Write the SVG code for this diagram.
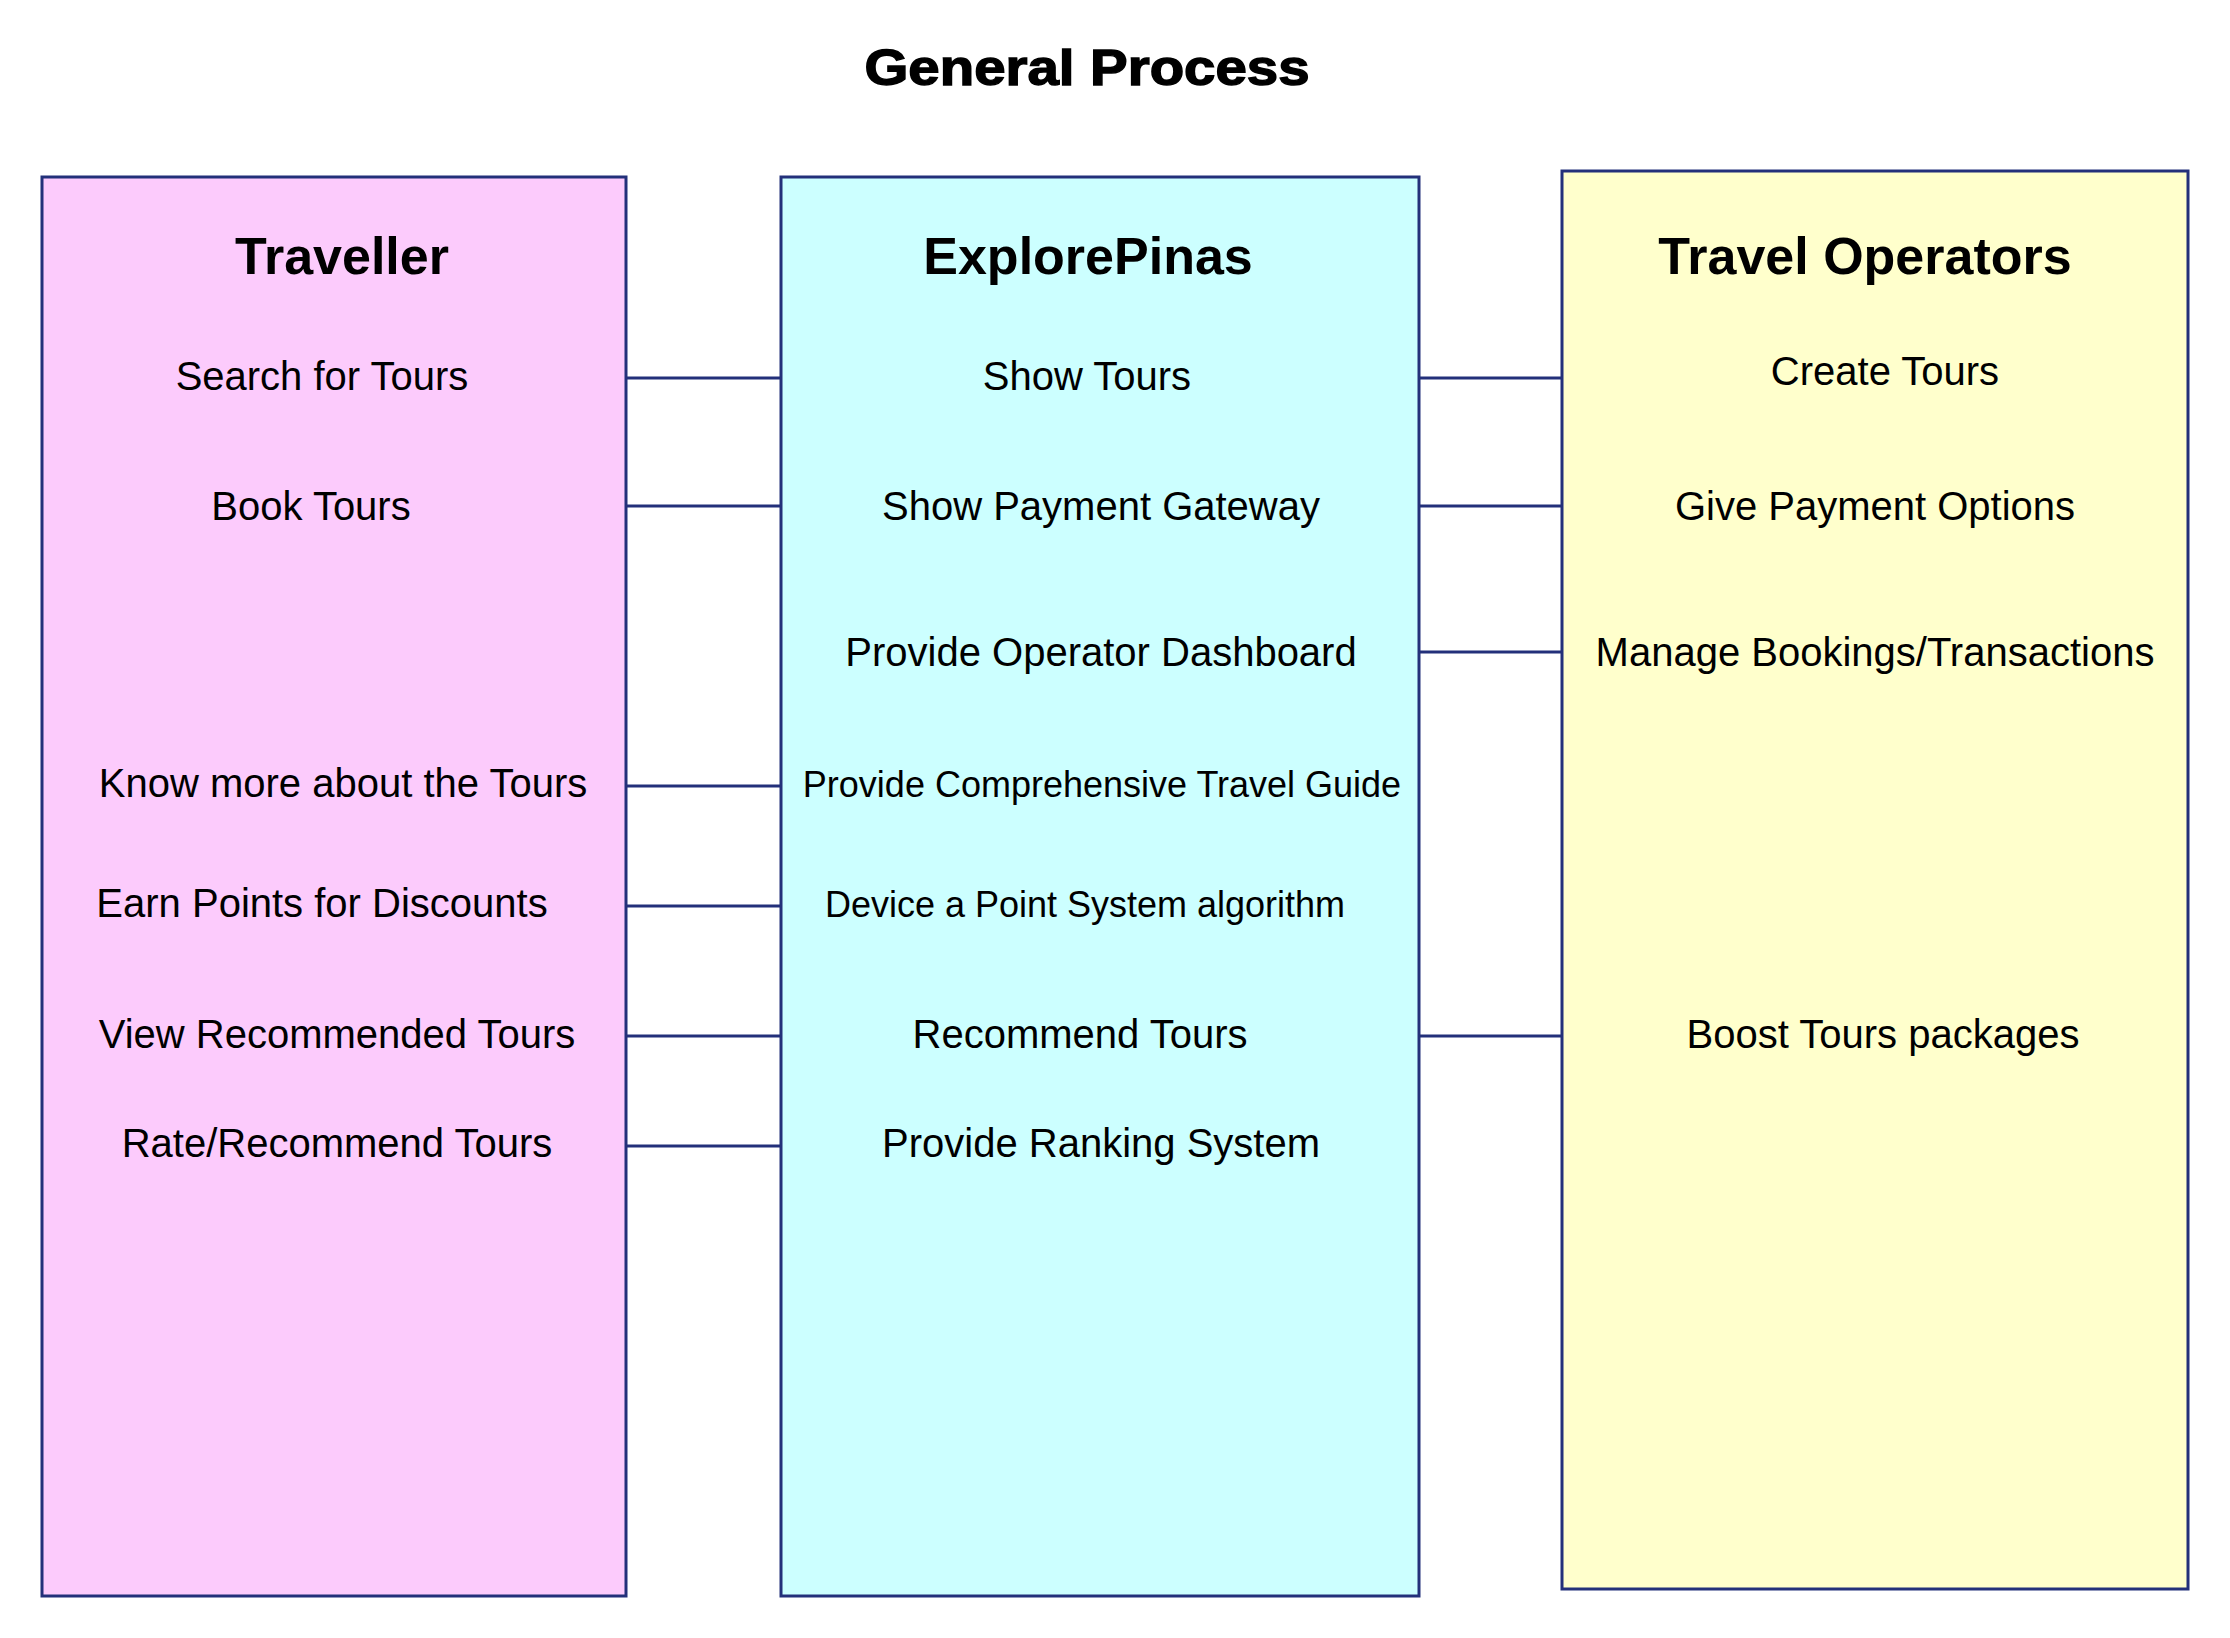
<svg xmlns="http://www.w3.org/2000/svg" width="2230" height="1638" viewBox="0 0 2230 1638">
<style>
.box{stroke:#23307a;stroke-width:3}
.conn line{stroke:#23307a;stroke-width:3}
text{font-family:"Liberation Sans",Arial,sans-serif;fill:#000;text-anchor:middle}
.title{font-size:50px;font-weight:bold;stroke:#000;stroke-width:1.4}
.head{font-size:52px;font-weight:bold}
.item{font-size:40px}
.small{font-size:36px}
</style>
<rect width="2230" height="1638" fill="#fff"/>
<text class="title" x="1087" y="85" textLength="445" lengthAdjust="spacingAndGlyphs">General Process</text>
<g id="traveller">
<rect class="box" x="42" y="177" width="584" height="1419" fill="#fccbfc"/>
<text class="head" x="342" y="274">Traveller</text>
<text class="item" x="322" y="390">Search for Tours</text>
<text class="item" x="311" y="520">Book Tours</text>
<text class="item" x="343" y="797">Know more about the Tours</text>
<text class="item" x="322" y="917">Earn Points for Discounts</text>
<text class="item" x="337" y="1048">View Recommended Tours</text>
<text class="item" x="337" y="1157">Rate/Recommend Tours</text>
</g>
<g id="explorepinas">
<rect class="box" x="781" y="177" width="638" height="1419" fill="#ccffff"/>
<text class="head" x="1088" y="274">ExplorePinas</text>
<text class="item" x="1087" y="390">Show Tours</text>
<text class="item" x="1101" y="520">Show Payment Gateway</text>
<text class="item" x="1101" y="666">Provide Operator Dashboard</text>
<text class="small" x="1102" y="797">Provide Comprehensive Travel Guide</text>
<text class="small" x="1085" y="917">Device a Point System algorithm</text>
<text class="item" x="1080" y="1048">Recommend Tours</text>
<text class="item" x="1101" y="1157">Provide Ranking System</text>
</g>
<g id="operators">
<rect class="box" x="1562" y="171" width="626" height="1418" fill="#ffffcc"/>
<text class="head" x="1865" y="274">Travel Operators</text>
<text class="item" x="1885" y="385">Create Tours</text>
<text class="item" x="1875" y="520">Give Payment Options</text>
<text class="item" x="1875" y="666">Manage Bookings/Transactions</text>
<text class="item" x="1883" y="1048">Boost Tours packages</text>
</g>
<g id="connectors" class="conn">
<line x1="626" y1="378" x2="781" y2="378"/>
<line x1="626" y1="506" x2="781" y2="506"/>
<line x1="626" y1="786" x2="781" y2="786"/>
<line x1="626" y1="906" x2="781" y2="906"/>
<line x1="626" y1="1036" x2="781" y2="1036"/>
<line x1="626" y1="1146" x2="781" y2="1146"/>
<line x1="1419" y1="378" x2="1562" y2="378"/>
<line x1="1419" y1="506" x2="1562" y2="506"/>
<line x1="1419" y1="652" x2="1562" y2="652"/>
<line x1="1419" y1="1036" x2="1562" y2="1036"/>
</g>
</svg>
